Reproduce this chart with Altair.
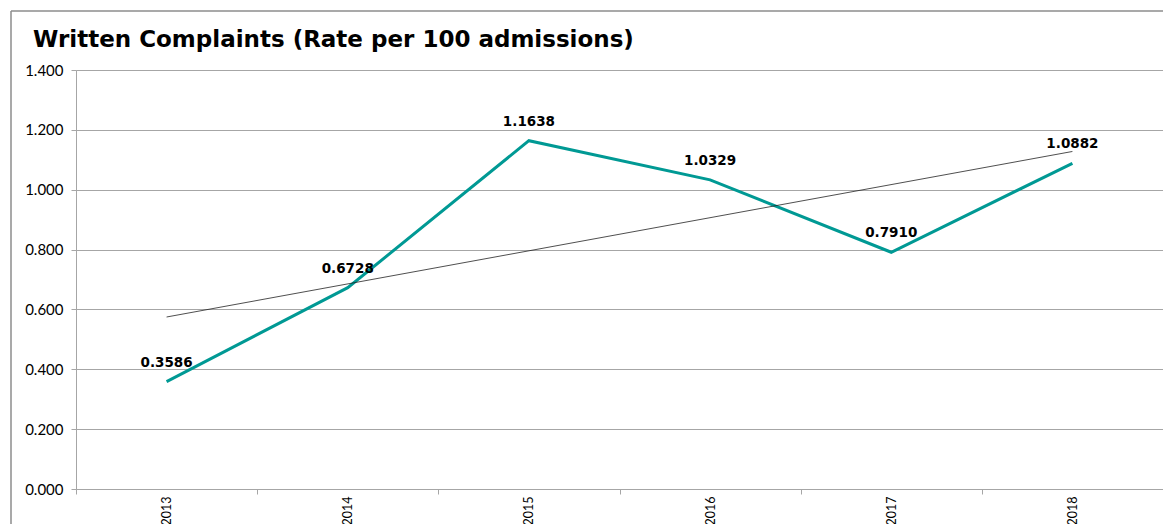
import altair as alt
import pandas as pd

years = ["2013", "2014", "2015", "2016", "2017", "2018"]
rates = [0.3586, 0.6728, 1.1638, 1.0329, 0.7910, 1.0882]
labels = ["0.3586", "0.6728", "1.1638", "1.0329", "0.7910", "1.0882"]
title_text = "Written Complaints (Rate per 100 admissions)"

df = pd.DataFrame({"year": years, "idx": list(range(len(years))), "rate": rates, "label": labels})

FONT = "Lato"
TEAL = "#009994"

xenc = alt.X("year:O", scale=alt.Scale(domain=years, paddingInner=0, paddingOuter=0),
             axis=alt.Axis(title=None, labelAngle=-90, labelFont=FONT, labelFontSize=12.5,
                           labelColor="#000", labelPadding=2, labelBaseline="middle",
                           domainColor="#a6a6a6", tickColor="#a6a6a6", tickSize=5,
                           tickBand="extent", grid=False))
yenc = alt.Y("rate:Q", scale=alt.Scale(domain=[0, 1.4], nice=False),
             axis=alt.Axis(title=None, values=[0, 0.2, 0.4, 0.6, 0.8, 1.0, 1.2, 1.4], format=".3f",
                           labelFont=FONT, labelFontSize=15, labelColor="#000", labelPadding=8,
                           domainColor="#a6a6a6", tickColor="#a6a6a6", tickSize=5,
                           gridColor="#a6a6a6", gridWidth=1))

base = alt.Chart(df)

line = base.mark_line(color=TEAL, strokeWidth=3).encode(x=xenc, y=yenc)

trend = base.transform_regression("idx", "rate").transform_calculate(
    year="'' + (2013 + datum.idx)"
).mark_line(color="#222", strokeWidth=0.8).encode(x=alt.X("year:O"), y=alt.Y("rate:Q"))

text = base.mark_text(font="DejaVu Sans", fontSize=13.5, fontWeight="bold", dy=-19, color="#000"
                      ).encode(x="year:O", y="rate:Q", text="label:N")

one = pd.DataFrame({"t": [title_text]})
title = alt.Chart(one).mark_text(font="DejaVu Sans", fontSize=23, fontWeight="bold", color="#000",
                                 align="left", baseline="alphabetic").encode(
    x=alt.value(-43), y=alt.value(-23), text="t:N")

border = alt.Chart(one).mark_rule(color="#8c8c8c", strokeWidth=1.5).encode(
    x=alt.value(-65), x2=alt.value(1100), y=alt.value(-59))
border2 = alt.Chart(one).mark_rule(color="#8c8c8c", strokeWidth=1.5).encode(
    x=alt.value(-65), y=alt.value(-59), y2=alt.value(470))

chart = alt.layer(border, border2, title, line, trend, text).properties(
    width=1087, height=419,
    padding={"left": 68, "top": 62, "right": 0, "bottom": 35},
    autosize=alt.AutoSizeParams(type="none"),
).configure_view(stroke=None).configure(background="white")

chart.save("out.html", embed_options={"renderer": "svg", "actions": False})
